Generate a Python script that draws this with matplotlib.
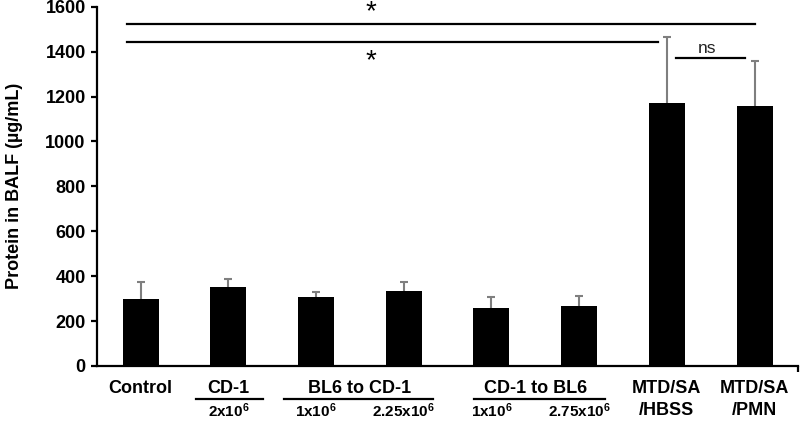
import matplotlib
matplotlib.use('Agg')
import matplotlib.pyplot as plt

plt.rcParams['font.family'] = 'Liberation Sans'
plt.rcParams['mathtext.fontset'] = 'custom'
plt.rcParams['mathtext.rm'] = 'Liberation Sans:bold'
plt.rcParams['mathtext.bf'] = 'Liberation Sans:bold'

# data
means = [300, 350, 308, 336, 256, 266, 1170, 1158]
errors = [75, 38, 20, 37, 52, 45, 297, 202]
main_labels = ['Control', 'CD-1', 'BL6 to CD-1', 'CD-1 to BL6', 'MTD/SA\n/HBSS', 'MTD/SA\n/PMN']
main_pos = [0, 1, 2.5, 4.5, 6, 7]
dose_labels = [r'$\mathbf{2x10^{6}}$', r'$\mathbf{1x10^{6}}$', r'$\mathbf{2.25x10^{6}}$',
               r'$\mathbf{1x10^{6}}$', r'$\mathbf{2.75x10^{6}}$']
dose_pos = [1, 2, 3, 4, 5]
yticks = [0, 200, 400, 600, 800, 1000, 1200, 1400, 1600]

fig = plt.figure(figsize=(8, 4.25), dpi=100)
ax = fig.add_axes([0.121, 0.139, 0.877, 0.845])

x = list(range(len(means)))
tops = [m + e for m, e in zip(means, errors)]
ax.vlines(x, means, tops, color='#7f7f7f', lw=1.5, zorder=1)
ax.scatter(x, tops, marker='_', s=30, color='#7f7f7f', linewidths=1.5, zorder=1)
ax.bar(x, means, width=0.41, color='black', zorder=2)

ax.set_xlim(-0.5, 7.5)
ax.set_ylim(0, 1600)
ax.set_yticks(yticks)
ax.set_yticklabels([str(t) for t in yticks], fontsize=13, fontweight='bold')
ax.set_xticks([7.5])
ax.set_xticklabels([''])
for s in ['top', 'right']:
    ax.spines[s].set_visible(False)
for s in ['left', 'bottom']:
    ax.spines[s].set_linewidth(1.6)
ax.tick_params(axis='both', length=4, width=1.6, pad=4)
ax.set_ylabel('Protein in BALF (µg/mL)', fontsize=13, fontweight='bold', labelpad=6)
ax.yaxis.set_label_coords(-0.105, 0.5)

# group labels below the axis
trans = ax.get_xaxis_transform()
for p, lab in zip(main_pos, main_labels):
    for i, line in enumerate(lab.split('\n')):
        ax.text(p, -0.074 - i * 0.062, line, transform=trans, ha='center', va='baseline',
                fontsize=13, fontweight='bold')
for p, lab in zip(dose_pos, dose_labels):
    ax.text(p, -0.142, lab, transform=trans, ha='center', va='baseline', fontsize=11)
for x0, x1 in [(0.63, 1.4), (1.63, 3.33), (3.8, 5.3)]:
    ax.plot([x0, x1], [-0.092, -0.092], transform=trans, color='black', lw=1.6, clip_on=False)

# significance brackets
ax.plot([-0.15, 7.0], [1525, 1525], color='black', lw=1.6)
ax.plot([-0.15, 5.9], [1444, 1444], color='black', lw=1.6)
ax.plot([6.1, 6.89], [1372, 1372], color='black', lw=1.6)
ax.text(2.63, 1520, '*', ha='center', va='bottom', fontsize=20, clip_on=False)
ax.text(2.63, 1300, '*', ha='center', va='bottom', fontsize=20)
ax.text(6.46, 1380, 'ns', ha='center', va='bottom', fontsize=12.5, color='#222222')

fig.savefig('out.png', dpi=100)
